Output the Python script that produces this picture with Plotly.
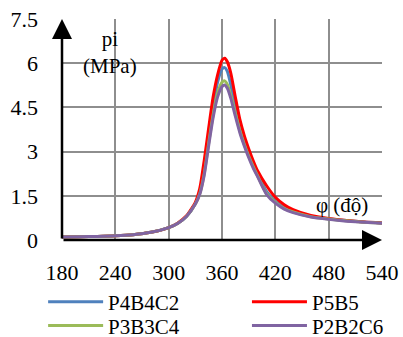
import plotly.graph_objects as go

phi = [180, 200, 220, 240, 260, 280, 300, 310, 320, 330, 335, 340, 345, 350, 355,
       360, 363, 366, 370, 375, 380, 385, 390, 395, 400, 410, 420, 430, 440, 460,
       480, 500, 520, 540]

p4b4c2 = [0.10, 0.11, 0.12, 0.14, 0.18, 0.26, 0.42, 0.56, 0.80, 1.23, 1.60, 2.35, 3.45,
          4.50, 5.35, 5.80, 5.85, 5.72, 5.25, 4.50, 3.85, 3.35, 2.92, 2.55, 2.25, 1.65,
          1.32, 1.10, 0.97, 0.81, 0.72, 0.66, 0.61, 0.58]
p5b5 = [0.10, 0.11, 0.12, 0.14, 0.18, 0.26, 0.42, 0.57, 0.82, 1.28, 1.75, 2.70, 3.80,
        4.85, 5.60, 6.10, 6.17, 6.05, 5.65, 4.85, 4.10, 3.55, 3.10, 2.70, 2.35, 1.85,
        1.45, 1.20, 1.03, 0.83, 0.73, 0.66, 0.61, 0.58]
p3b3c4 = [0.10, 0.11, 0.12, 0.14, 0.18, 0.26, 0.42, 0.56, 0.80, 1.22, 1.57, 2.25, 3.28,
          4.25, 4.98, 5.35, 5.40, 5.28, 4.90, 4.30, 3.72, 3.25, 2.85, 2.50, 2.18, 1.58,
          1.28, 1.07, 0.95, 0.79, 0.71, 0.65, 0.60, 0.57]
p2b2c6 = [0.10, 0.11, 0.12, 0.14, 0.18, 0.26, 0.42, 0.56, 0.80, 1.22, 1.55, 2.20, 3.20,
          4.15, 4.85, 5.20, 5.26, 5.15, 4.80, 4.20, 3.65, 3.20, 2.80, 2.45, 2.15, 1.55,
          1.25, 1.05, 0.93, 0.78, 0.70, 0.64, 0.60, 0.57]

series_names = ["P4B4C2", "P5B5", "P3B3C4", "P2B2C6"]
series_colors = ["#4F81BD", "#FF0000", "#9BBB59", "#8064A2"]
series_values = [p4b4c2, p5b5, p3b3c4, p2b2c6]
series_legends = ["legend", "legend2", "legend3", "legend4"]

x_ticks = [180, 240, 300, 360, 420, 480, 540]
y_ticks = [0, 1.5, 3, 4.5, 6, 7.5]
y_tick_labels = ["0", "1.5", "3", "4.5", "6", "7.5"]

FONT = "Times New Roman, Liberation Serif, serif"

fig = go.Figure()
for name, color, vals, lg in zip(series_names, series_colors, series_values, series_legends):
    fig.add_trace(go.Scatter(x=phi, y=vals, name=name, mode="lines", legend=lg,
                             line=dict(color=color, width=3, shape="spline", smoothing=0.6)))

# 2x2 legend grid (column x, row middle y in paper units)
col_x = [-0.059, 0.578]
row_y = [-0.2805, -0.388]
legend_pos = [(col_x[0], row_y[0]), (col_x[1], row_y[0]), (col_x[0], row_y[1]), (col_x[1], row_y[1])]
legend_layouts = {}
for lg, (lx, ly) in zip(series_legends, legend_pos):
    legend_layouts[lg] = dict(orientation="v", xref="paper", yref="paper", x=lx, y=ly,
                              xanchor="left", yanchor="middle", itemwidth=55,
                              font=dict(family=FONT, size=21, color="black"),
                              bgcolor="rgba(0,0,0,0)")

fig.update_layout(
    width=403, height=337,
    margin=dict(l=62, r=21, t=19, b=97, autoexpand=False),
    paper_bgcolor="white", plot_bgcolor="white",
    font=dict(family=FONT, size=20, color="black"),
    showlegend=True,
    xaxis=dict(range=[180, 540], tickvals=x_ticks, showgrid=True, gridcolor="#8e8e8e",
               gridwidth=1.8, zeroline=False, showline=False, ticks="",
               ticklabelstandoff=17, tickfont=dict(family=FONT, size=22)),
    yaxis=dict(range=[0, 7.5], tickvals=y_ticks, ticktext=y_tick_labels, showgrid=True,
               gridcolor="#8e8e8e", gridwidth=1.8, zeroline=False, showline=False,
               ticks="", ticklabelstandoff=23, tickfont=dict(family=FONT, size=22)),
    **legend_layouts,
)

# axis arrows
fig.add_annotation(x=540, y=0, ax=180, ay=0, xref="x", yref="y", axref="x", ayref="y",
                   text="", showarrow=True, arrowhead=2, arrowsize=1.6, arrowwidth=2.5,
                   arrowcolor="black", standoff=0)
fig.add_annotation(x=180, y=7.5, ax=180, ay=0, xref="x", yref="y", axref="x", ayref="y",
                   text="", showarrow=True, arrowhead=2, arrowsize=1.6, arrowwidth=2.5,
                   arrowcolor="black", standoff=0)

fig.add_annotation(x=234, y=6.36, xref="x", yref="y", text="pi<br>(MPa)", showarrow=False,
                   font=dict(family=FONT, size=21, color="black"), align="center")
fig.add_annotation(x=495, y=1.19, xref="x", yref="y", text="φ (độ)", showarrow=False,
                   font=dict(family=FONT, size=21, color="black"))

fig.write_html("out.html")
